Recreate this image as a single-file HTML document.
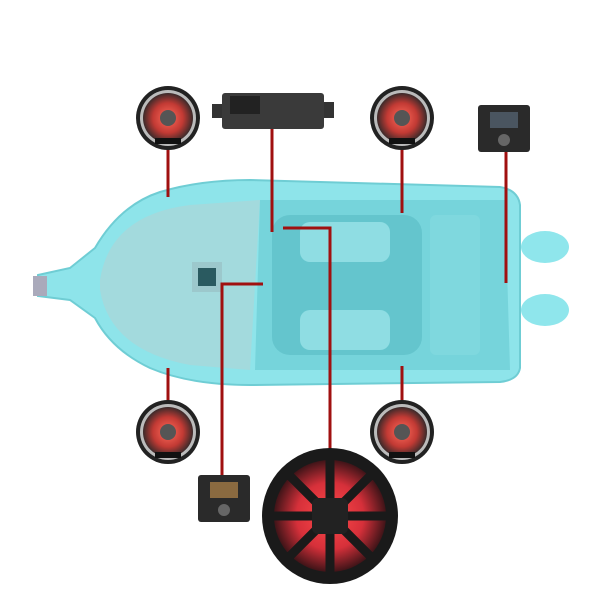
<!DOCTYPE html>
<html><head><style>body{margin:0;background:#fff}svg{display:block}</style></head><body>
<svg width="600" height="600" viewBox="0 0 600 600" xmlns="http://www.w3.org/2000/svg">
<defs>
<radialGradient id="spk" cx="50%" cy="50%" r="50%">
<stop offset="0" stop-color="#ff6a5a"/><stop offset="0.6" stop-color="#c23a34"/><stop offset="1" stop-color="#3a2a2a"/></radialGradient>
<radialGradient id="sub" cx="50%" cy="50%" r="50%">
<stop offset="0" stop-color="#ff4a4a"/><stop offset="0.6" stop-color="#d6303a"/><stop offset="1" stop-color="#401418"/></radialGradient>
</defs>
<!-- motors -->
<ellipse cx="545" cy="247" rx="24" ry="16" fill="#8fe6ec"/>
<ellipse cx="545" cy="310" rx="24" ry="16" fill="#8fe6ec"/>
<!-- hull -->
<path d="M38,275 L70,268 L95,248 Q120,205 160,192 Q200,180 250,180 L500,187 Q518,190 520,205 L520,368 Q518,380 500,382 L250,385 Q190,385 150,368 Q112,350 95,318 L70,300 L38,296 Z" fill="#8ee4ea" stroke="#6fcdd4" stroke-width="2"/>
<path d="M100,280 Q110,215 190,205 L260,200 L250,370 L190,365 Q110,350 100,290 Z" fill="#a9d7da" opacity="0.8"/>
<path d="M260,200 L505,200 L510,370 L255,370 Z" fill="#6ccdd4" opacity="0.7"/>
<rect x="272" y="215" width="150" height="140" rx="18" fill="#5cbfc7" opacity="0.7"/>
<rect x="300" y="222" width="90" height="40" rx="10" fill="#8fdde3"/>
<rect x="300" y="310" width="90" height="40" rx="10" fill="#8fdde3"/>
<rect x="430" y="215" width="50" height="140" rx="6" fill="#7fd8de"/>
<rect x="192" y="262" width="30" height="30" fill="#9cc8cc"/>
<rect x="198" y="268" width="18" height="18" fill="#2a5a60"/>
<rect x="33" y="276" width="14" height="20" fill="#aab"/>
<!-- lines -->
<g stroke="#a01010" stroke-width="3" fill="none">
<line x1="168" y1="148" x2="168" y2="197"/>
<line x1="272" y1="128" x2="272" y2="232"/>
<polyline points="283,228 330,228 330,452"/>
<line x1="402" y1="148" x2="402" y2="213"/>
<line x1="506" y1="150" x2="506" y2="283"/>
<polyline points="263,284 222,284 222,476"/>
<line x1="168" y1="368" x2="168" y2="402"/>
<line x1="402" y1="366" x2="402" y2="402"/>
</g>
<!-- speakers -->
<g id="s">
<circle cx="168" cy="118" r="32" fill="#222"/><circle cx="168" cy="118" r="28" fill="#bbb"/><circle cx="168" cy="118" r="25" fill="url(#spk)"/><circle cx="168" cy="118" r="8" fill="#555"/><rect x="155" y="138" width="26" height="6" fill="#111"/>
</g>
<g transform="translate(234,0)"><circle cx="168" cy="118" r="32" fill="#222"/><circle cx="168" cy="118" r="28" fill="#bbb"/><circle cx="168" cy="118" r="25" fill="url(#spk)"/><circle cx="168" cy="118" r="8" fill="#555"/><rect x="155" y="138" width="26" height="6" fill="#111"/></g>
<g transform="translate(0,314)"><circle cx="168" cy="118" r="32" fill="#222"/><circle cx="168" cy="118" r="28" fill="#bbb"/><circle cx="168" cy="118" r="25" fill="url(#spk)"/><circle cx="168" cy="118" r="8" fill="#555"/><rect x="155" y="138" width="26" height="6" fill="#111"/></g>
<g transform="translate(234,314)"><circle cx="168" cy="118" r="32" fill="#222"/><circle cx="168" cy="118" r="28" fill="#bbb"/><circle cx="168" cy="118" r="25" fill="url(#spk)"/><circle cx="168" cy="118" r="8" fill="#555"/><rect x="155" y="138" width="26" height="6" fill="#111"/></g>
<!-- amp -->
<rect x="212" y="104" width="12" height="14" fill="#333"/>
<rect x="320" y="102" width="14" height="16" fill="#333"/>
<rect x="222" y="93" width="102" height="36" rx="3" fill="#3a3a3a"/>
<rect x="230" y="96" width="30" height="18" fill="#222"/>
<!-- head units -->
<rect x="478" y="105" width="52" height="47" rx="3" fill="#2a2a2a"/>
<rect x="490" y="112" width="28" height="16" fill="#4a5560"/>
<circle cx="504" cy="140" r="6" fill="#666"/>
<rect x="198" y="475" width="52" height="47" rx="3" fill="#2a2a2a"/>
<rect x="210" y="482" width="28" height="16" fill="#8a6a40"/>
<circle cx="224" cy="510" r="6" fill="#666"/>
<!-- sub -->
<circle cx="330" cy="516" r="68" fill="#1a1a1a"/>
<circle cx="330" cy="516" r="56" fill="url(#sub)"/>
<g stroke="#1a1a1a" stroke-width="9">
<line x1="330" y1="460" x2="330" y2="572"/><line x1="274" y1="516" x2="386" y2="516"/>
<line x1="290" y1="476" x2="370" y2="556"/><line x1="370" y1="476" x2="290" y2="556"/>
</g>
<rect x="312" y="498" width="36" height="36" rx="6" fill="#222"/>
</svg>
</body></html>
